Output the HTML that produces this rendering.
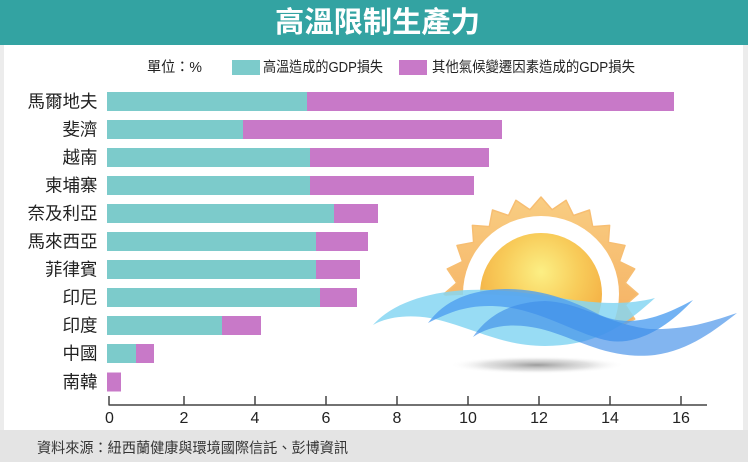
<!DOCTYPE html>
<html><head><meta charset="utf-8">
<style>
html,body{margin:0;padding:0;background:#ececec;}
svg{display:block;}
text{font-family:"Liberation Sans","Noto Sans CJK TC",sans-serif;}
</style></head>
<body>
<svg width="748" height="462" viewBox="0 0 748 462" xmlns="http://www.w3.org/2000/svg">
<defs>
  <radialGradient id="core" cx="541" cy="272" r="70" gradientUnits="userSpaceOnUse">
    <stop offset="0" stop-color="#fcef84"/>
    <stop offset="0.55" stop-color="#f8cc5a"/>
    <stop offset="1" stop-color="#f4b045"/>
  </radialGradient>
  <linearGradient id="rays" x1="0" y1="197" x2="0" y2="330" gradientUnits="userSpaceOnUse">
    <stop offset="0" stop-color="#f9cd82"/>
    <stop offset="1" stop-color="#f5b062"/>
  </linearGradient>
  <radialGradient id="shadow" cx="0.5" cy="0.5" r="0.5">
    <stop offset="0" stop-color="#8a8a8a" stop-opacity="0.85"/>
    <stop offset="0.6" stop-color="#bdbdbd" stop-opacity="0.45"/>
    <stop offset="1" stop-color="#ffffff" stop-opacity="0"/>
  </radialGradient>
  <clipPath id="sunclip">
    <path d="M400,150 L700,150 L700,325 L650,331 L620,323 L590,313 L560,303 L520,296 L480,294 L440,296 L400,298 Z"/>
  </clipPath>
</defs>

<!-- backgrounds -->
<rect x="0" y="0" width="748" height="462" fill="#ececec"/>
<rect x="4" y="45" width="739" height="385" fill="#ffffff"/>
<rect x="0" y="430" width="748" height="32" fill="#e4e4e4"/>
<rect x="0" y="0" width="748" height="45" fill="#33a3a2"/>

<!-- title -->
<text x="377.5" y="23" text-anchor="middle" dominant-baseline="central" font-size="29" font-weight="bold" fill="#ffffff" textLength="205" lengthAdjust="spacingAndGlyphs">高溫限制生產力</text>

<!-- legend -->
<text x="147" y="68" dominant-baseline="central" font-size="14.5" fill="#222" textLength="55" lengthAdjust="spacingAndGlyphs">單位：%</text>
<rect x="232" y="60" width="28" height="15" fill="#7ccbcb"/>
<text x="263" y="68" dominant-baseline="central" font-size="14.5" fill="#222" textLength="120" lengthAdjust="spacingAndGlyphs">高溫造成的GDP損失</text>
<rect x="399" y="60" width="28" height="15" fill="#c879c8"/>
<text x="432" y="68" dominant-baseline="central" font-size="14.5" fill="#222" textLength="203" lengthAdjust="spacingAndGlyphs">其他氣候變遷因素造成的GDP損失</text>

<!-- sun -->
<g clip-path="url(#sunclip)">
  <polygon fill="url(#rays)" stroke="#f7be72" stroke-width="1.5" stroke-linejoin="round" points="
638,294 625.3,305.1 634.7,319.1 619.5,326.5 625,342.5 608.4,345.7 609.6,362.6 592.7,361.4 589.5,378 573.5,372.5 566.1,387.7 552.1,378.3 541,391 529.9,378.3 515.9,387.7 508.5,372.5 492.5,378 489.3,361.4 472.4,362.6 473.6,345.7 457,342.5 462.5,326.5 447.3,319.1 456.7,305.1 444,294 456.7,282.9 447.3,268.9 462.5,261.5 457,245.5 473.6,242.3 472.4,225.4 489.3,226.6 492.5,210 508.5,215.5 515.9,200.3 529.9,209.7 541,197 552.1,209.7 566.1,200.3 573.5,215.5 589.5,210 592.7,226.6 609.6,225.4 608.4,242.3 625,245.5 619.5,261.5 634.7,268.9 625.3,282.9"/>
  <circle cx="541" cy="294" r="78" fill="#ffffff"/>
  <circle cx="541" cy="294" r="61" fill="url(#core)"/>
</g>

<!-- shadow -->
<ellipse cx="537" cy="365" rx="88" ry="9" fill="url(#shadow)"/>

<!-- waves -->
<path d="M373,325 C395,300 440,288 490,290 C550,292 600,312 655,298 C628,322 600,346 545,346 C500,346 470,326 430,318 C405,314 385,318 373,325 Z" fill="#86d6f2" opacity="0.85"/>
<path d="M428,323 C445,300 470,290 505,289 C545,289 575,302 600,315 C630,328 660,318 693,300 C670,325 640,345 610,341 C580,336 545,312 505,307 C470,303 450,312 428,323 Z" fill="#4f9ff0" opacity="0.8"/>
<path d="M473,337 C490,312 515,302 545,301 C580,302 610,325 650,329 C690,330 715,320 737,313 C715,330 690,350 655,355 C610,360 580,340 545,330 C515,322 490,325 473,337 Z" fill="#3f8de8" opacity="0.65"/>

<!-- bars -->
<g>
  <rect x="107" y="92" width="200" height="19" fill="#7ccbcb"/><rect x="307" y="92" width="367" height="19" fill="#c879c8"/>
  <rect x="107" y="120" width="136" height="19" fill="#7ccbcb"/><rect x="243" y="120" width="259" height="19" fill="#c879c8"/>
  <rect x="107" y="148" width="203" height="19" fill="#7ccbcb"/><rect x="310" y="148" width="179" height="19" fill="#c879c8"/>
  <rect x="107" y="176" width="203" height="19" fill="#7ccbcb"/><rect x="310" y="176" width="164" height="19" fill="#c879c8"/>
  <rect x="107" y="204" width="227" height="19" fill="#7ccbcb"/><rect x="334" y="204" width="44" height="19" fill="#c879c8"/>
  <rect x="107" y="232" width="209" height="19" fill="#7ccbcb"/><rect x="316" y="232" width="52" height="19" fill="#c879c8"/>
  <rect x="107" y="260" width="209" height="19" fill="#7ccbcb"/><rect x="316" y="260" width="44" height="19" fill="#c879c8"/>
  <rect x="107" y="288" width="213" height="19" fill="#7ccbcb"/><rect x="320" y="288" width="37" height="19" fill="#c879c8"/>
  <rect x="107" y="316" width="115" height="19" fill="#7ccbcb"/><rect x="222" y="316" width="39" height="19" fill="#c879c8"/>
  <rect x="107" y="344" width="29" height="19" fill="#7ccbcb"/><rect x="136" y="344" width="18" height="19" fill="#c879c8"/>
  <rect x="107" y="372.5" width="14" height="19" fill="#c879c8"/>
</g>

<!-- category labels -->
<g font-size="17.5" fill="#222" text-anchor="end" dominant-baseline="central">
  <text x="97.5" y="101.5">馬爾地夫</text>
  <text x="97.5" y="129.5">斐濟</text>
  <text x="97.5" y="157.5">越南</text>
  <text x="97.5" y="185.5">柬埔寨</text>
  <text x="97.5" y="213.5">奈及利亞</text>
  <text x="97.5" y="241.5">馬來西亞</text>
  <text x="97.5" y="269.5">菲律賓</text>
  <text x="97.5" y="297.5">印尼</text>
  <text x="97.5" y="325.5">印度</text>
  <text x="97.5" y="353.5">中國</text>
  <text x="97.5" y="382">南韓</text>
</g>

<!-- axis -->
<g stroke="#444" stroke-width="1.5">
  <line x1="108.5" y1="405" x2="707" y2="405"/>
  <line x1="109" y1="396" x2="109" y2="405"/>
  <line x1="184" y1="396" x2="184" y2="405"/>
  <line x1="255" y1="396" x2="255" y2="405"/>
  <line x1="326" y1="396" x2="326" y2="405"/>
  <line x1="397" y1="396" x2="397" y2="405"/>
  <line x1="468" y1="396" x2="468" y2="405"/>
  <line x1="539" y1="396" x2="539" y2="405"/>
  <line x1="610" y1="396" x2="610" y2="405"/>
  <line x1="681" y1="396" x2="681" y2="405"/>
</g>
<g font-size="16" fill="#222" text-anchor="middle" dominant-baseline="central">
  <text x="109.5" y="418.5">0</text>
  <text x="184" y="418.5">2</text>
  <text x="255" y="418.5">4</text>
  <text x="326" y="418.5">6</text>
  <text x="397" y="418.5">8</text>
  <text x="468" y="418.5">10</text>
  <text x="539" y="418.5">12</text>
  <text x="610" y="418.5">14</text>
  <text x="681" y="418.5">16</text>
</g>

<!-- footer -->
<text x="37" y="449" dominant-baseline="central" font-size="14.5" fill="#333" textLength="311" lengthAdjust="spacingAndGlyphs">資料來源：紐西蘭健康與環境國際信託、彭博資訊</text>
</svg>
</body></html>
